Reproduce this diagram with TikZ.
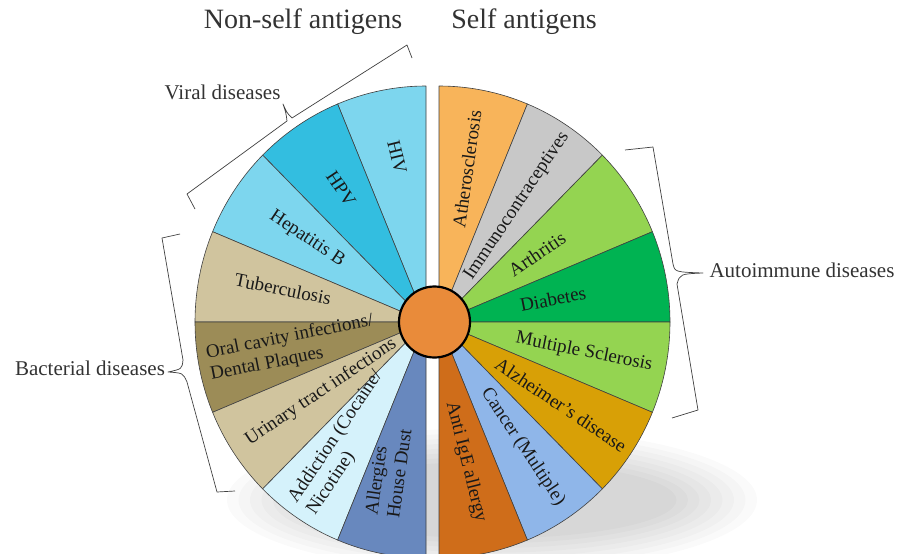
\documentclass[tikz,border=0pt]{standalone}
\usepackage{fontspec}
\setmainfont{Liberation Serif}
\definecolor{cHIV}{HTML}{7DD6EE}
\definecolor{cHPV}{HTML}{33BEE0}
\definecolor{cTan}{HTML}{D0C49E}
\definecolor{cOral}{HTML}{9C8C57}
\definecolor{cAdd}{HTML}{D5F2FB}
\definecolor{cAll}{HTML}{6888BE}
\definecolor{cAth}{HTML}{F8B45A}
\definecolor{cImm}{HTML}{C8C8C8}
\definecolor{cLG}{HTML}{94D451}
\definecolor{cDia}{HTML}{00B352}
\definecolor{cAlz}{HTML}{D8A006}
\definecolor{cCan}{HTML}{8FB6E9}
\definecolor{cIgE}{HTML}{CF6D1A}
\definecolor{cCtr}{HTML}{E98B3A}
\newcommand\wedgeL[3]{\filldraw[wedge, fill=#3] (L) -- ++(#1:231 and 236) arc[start angle=#1, end angle=#2, x radius=231, y radius=236] -- cycle;}
\newcommand\wedgeR[3]{\filldraw[wedge, fill=#3] (R) -- ++(#1:231 and 236) arc[start angle=#1, end angle=#2, x radius=231, y radius=236] -- cycle;}
\begin{document}
\begin{tikzpicture}[x=1pt,y=-1pt,
  wedge/.style={draw=black!75, line width=0.6pt, line join=round},
  lbl/.style={font=\fontsize{19}{22}\selectfont, text=black!90, inner sep=0pt, align=left},
  side/.style={font=\fontsize{21}{25}\selectfont, text=black!80, inner sep=0pt},
  ttl/.style={font=\fontsize{28}{32}\selectfont, text=black!80, inner sep=0pt},
  bracestyle/.style={draw=black!75, line width=0.7pt, line join=round},
  shadowlayer/.style={fill=black, fill opacity=0.02}]

\useasboundingbox (0,0) rectangle (911,554);
\fill[white] (0,0) rectangle (911,554);

% soft shadow under the wheel
\foreach \d in {0,1,2,3,4,5,6,7}
  \fill[shadowlayer] (492,500) ellipse [x radius=265-11.5*\d, y radius=72-4.8*\d];

\coordinate (L) at (426,322);
\coordinate (R) at (439,322);

% left half: non-self antigens
\wedgeL{247.5}{270}{cHIV}
\wedgeL{225}{247.5}{cHPV}
\wedgeL{202.5}{225}{cHIV}
\wedgeL{180}{202.5}{cTan}
\wedgeL{157.5}{180}{cOral}
\wedgeL{135}{157.5}{cTan}
\wedgeL{112.5}{135}{cAdd}
\wedgeL{90}{112.5}{cAll}

% right half: self antigens
\wedgeR{-90}{-67.5}{cAth}
\wedgeR{-67.5}{-45}{cImm}
\wedgeR{-45}{-22.5}{cLG}
\wedgeR{-22.5}{0}{cDia}
\wedgeR{0}{22.5}{cLG}
\wedgeR{22.5}{45}{cAlz}
\wedgeR{45}{67.5}{cCan}
\wedgeR{67.5}{90}{cIgE}

\node[circle, draw=black, line width=2.2pt, fill=cCtr, minimum size=71pt, inner sep=0pt] (hub) at (434.5,322) {};

% wedge labels, left
\node[lbl, rotate=-76] (hiv) at (397,157) {HIV};
\node[lbl, rotate=-56.25] (hpv) at (341,189) {HPV};
\node[lbl, rotate=-33.75] (hepb) at (307,239) {Hepatitis B};
\node[lbl, rotate=-11.25] (tb) at (283,289) {Tuberculosis};
\node[lbl, rotate=11.25] (oral) at (292,348) {Oral cavity infections/\\Dental Plaques};
\node[lbl, rotate=33.75] (uti) at (321,392) {Urinary tract infections};
\node[lbl, rotate=56.25] (addict) at (345,443) {Addiction (Cocaine/\\Nicotine)};
\node[lbl, rotate=82] (allerg) at (388,472) {Allergies\\House Dust};

% wedge labels, right
\node[lbl, rotate=82] (ath) at (467,169) {Atherosclerosis};
\node[lbl, rotate=56.25] (imm) at (517,206) {Immunocontraceptives};
\node[lbl, rotate=33.75] (arth) at (537,254) {Arthritis};
\node[lbl, rotate=11.25] (diab) at (553,299) {Diabetes};
\node[lbl, rotate=-11.25] (ms) at (584,352) {Multiple Sclerosis};
\node[lbl, rotate=-33.75] (alz) at (561,405) {Alzheimer's disease};
\node[lbl, rotate=-56.25] (canc) at (523,447) {Cancer (Multiple)};
\node[lbl, rotate=-76] (ige) at (466,462) {Anti IgE allergy};

% titles and group labels
\node[ttl, anchor=base] (nonself) at (303,28) {Non-self antigens};
\node[ttl, anchor=base] (self) at (524,28) {Self antigens};
\node[side, anchor=base] (viral) at (222.5,99) {Viral diseases};
\node[side, anchor=base] (auto) at (802,277) {Autoimmune diseases};
\node[side, anchor=base] (bact) at (90,375) {Bacterial diseases};

% braces
\draw[bracestyle] (195,209) -- (187,194) -- (287,121) .. controls (286,113) .. (283,104) .. controls (287,113) .. (292,118) -- (407,45) -- (412,58);
\draw[bracestyle] (625,150) -- (653,147) -- (673,264) .. controls (675,272) .. (703,273) .. controls (680,274) .. (677,284) -- (698,410) -- (672,418);
\draw[bracestyle] (180,234) -- (162,238) -- (183,360) .. controls (182,369) .. (168,372) .. controls (183,373) .. (187,382) -- (217,492) -- (235,491);
\end{tikzpicture}
\end{document}
